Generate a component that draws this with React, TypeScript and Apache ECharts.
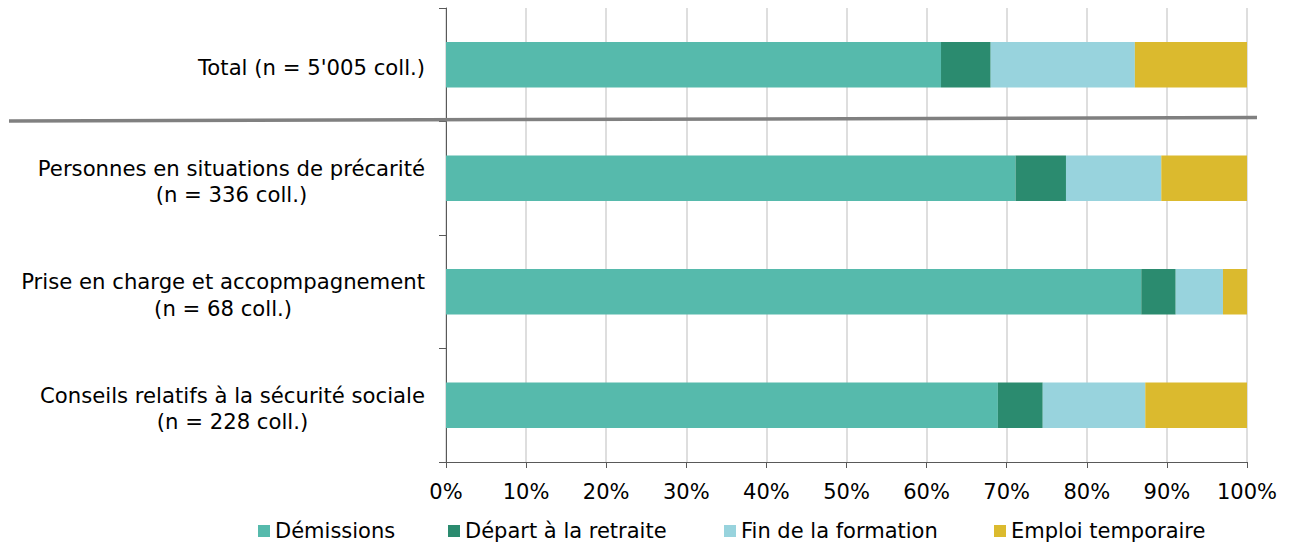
import React, { useEffect, useRef } from "react";
import * as echarts from "echarts";

const categories = [
  "Total (n = 5'005 coll.)",
  "Personnes en situations de précarité\n(n = 336 coll.)",
  "Prise en charge et accopmpagnement\n(n = 68 coll.)",
  "Conseils relatifs à la sécurité sociale\n(n = 228 coll.)",
];
const seriesNames = ["Démissions", "Départ à la retraite", "Fin de la formation", "Emploi temporaire"];
const demissions = [61.8, 71.1, 86.8, 68.9];
const depart = [6.2, 6.3, 4.3, 5.6];
const finFormation = [18.0, 11.9, 5.9, 12.8];
const emploiTemp = [14.0, 10.7, 3.0, 12.7];
const colors = ["#56BAAC", "#2B8B6F", "#98D3DD", "#DBBA2E"];
const legendLefts = [258, 448, 724, 994];

const FONT = "DejaVu Sans";
const FS = 21.2;

export default function App() {
  const ref = useRef<HTMLDivElement>(null);
  useEffect(() => {
    if (!ref.current) return;
    const chart = echarts.init(ref.current, undefined, { renderer: "svg" });
    const values = [demissions, depart, finFormation, emploiTemp];
    chart.setOption({
      animation: false,
      backgroundColor: "#ffffff",
      grid: { left: 446, right: 48, top: 8, bottom: 82 },
      legend: seriesNames.map((n, i) => ({
        data: [n],
        left: legendLefts[i],
        top: 519,
        padding: 0,
        icon: "rect",
        itemWidth: 12,
        itemHeight: 12,
        textStyle: { fontFamily: FONT, fontSize: 21, color: "#000", lineHeight: 24 },
      })),
      xAxis: {
        type: "value",
        min: 0,
        max: 100,
        interval: 10,
        axisLine: { show: true, lineStyle: { color: "#595959", width: 1 } },
        axisTick: { show: true, length: 6, lineStyle: { color: "#595959" } },
        splitLine: { show: true, lineStyle: { color: "#D3D3D3", width: 1.5 } },
        axisLabel: {
          formatter: "{value}%",
          fontFamily: FONT,
          fontSize: 21,
          color: "#000",
          lineHeight: 24,
          margin: 18,
        },
      },
      yAxis: {
        type: "category",
        inverse: true,
        data: categories,
        axisLine: { show: true, lineStyle: { color: "#595959", width: 1 } },
        axisTick: { show: true, length: 7, lineStyle: { color: "#595959" } },
        axisLabel: {
          margin: 21,
          fontFamily: FONT,
          fontSize: FS,
          color: "#000",
          align: "right",
          padding: [6, 0, 0, 0],
          formatter: (v: string) =>
            v
              .split("\n")
              .map((l) => `{c|${l}}`)
              .join("\n"),
          rich: {
            c: { align: "center", fontFamily: FONT, fontSize: FS, lineHeight: 26.5, color: "#000" },
          },
        },
      },
      series: seriesNames.map((n, i) => ({
        name: n,
        type: "bar",
        stack: "total",
        barWidth: "40%",
        itemStyle: { color: colors[i] },
        data: values[i],
      })),
      graphic: [
        {
          type: "line",
          shape: { x1: 9, y1: 121, x2: 1257, y2: 117.5 },
          style: { stroke: "#808080", lineWidth: 3.5 },
          z: 100,
        },
      ],
    });
    return () => chart.dispose();
  }, []);
  return (
    <div
      ref={ref}
      style={{ position: "fixed", left: 0, top: 0, width: 1295, height: 544 }}
    />
  );
}
